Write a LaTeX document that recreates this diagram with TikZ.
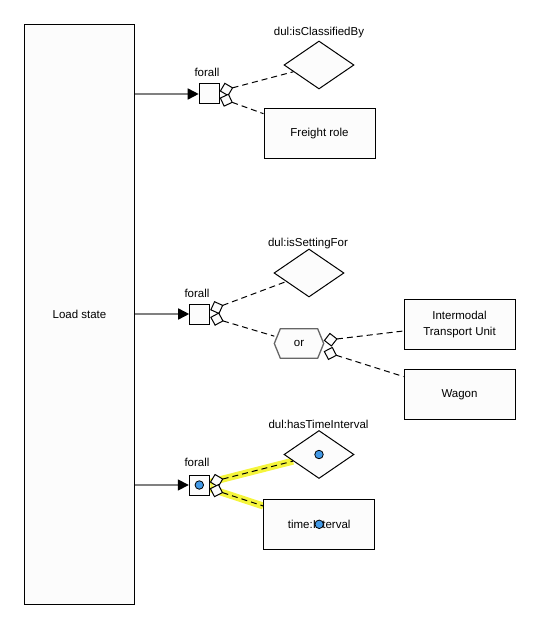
\documentclass[tikz,border=0pt]{standalone}
\usepackage{fontspec}
\setmainfont{Liberation Sans}
\usetikzlibrary{arrows.meta,shapes.geometric}
\pgfdeclarelayer{background}
\pgfsetlayers{background,main}
\definecolor{nodefill}{RGB}{252,252,252}
\definecolor{conngray}{RGB}{128,128,128}
\definecolor{hexgray}{RGB}{102,102,102}
\definecolor{hlyellow}{RGB}{245,245,60}
\definecolor{dotblue}{RGB}{66,153,230}
\begin{document}
\begin{tikzpicture}[x=1pt,y=-1pt,
  font=\fontsize{11.5}{16}\selectfont,
  classbox/.style={draw=black, line width=1pt, fill=nodefill, minimum width=111pt, minimum height=50pt, inner sep=2pt, align=center},
  relshape/.style={diamond, draw=black, line width=1pt, fill=nodefill, minimum width=70pt, minimum height=48pt, inner sep=0pt},
  quant/.style={draw=black, line width=1pt, fill=nodefill, minimum size=20pt, inner sep=0pt},
  feed/.style={conngray, line width=1.6pt, -{Triangle[length=11pt,width=11pt,color=black]}},
  rel/.style={line width=1pt, dash pattern=on 6pt off 4pt, {Diamond[length=14pt,width=14pt,fill=nodefill]}-},
  hl/.style={hlyellow, line width=7pt},
  dot/.style={circle, draw=black, line width=0.8pt, fill=dotblue, minimum size=8.5pt, inner sep=0pt},
  tag/.style={inner sep=0pt}]
\useasboundingbox (0,0) rectangle (538,628);

% main class
\node[draw=black, line width=1pt, fill=nodefill, minimum width=110pt, minimum height=579.5pt] (ls) at (79.5,314.25) {Load state};

% quantifier boxes
\node[quant] (f1) at (209.2,94) {};
\node[tag] (f1l) at (207,72) {forall};
\node[quant] (f2) at (199.7,314) {};
\node[tag] (f2l) at (197,293) {forall};
\node[quant] (f3) at (199.3,485) {};
\node[tag] (f3l) at (197,462) {forall};

% group 1
\node[relshape] (d1) at (319,65) {};
\node[tag] (d1l) at (319,33) {dul:isClassifiedBy};
\node[classbox] (fr) at (319.5,134) {Freight role};

% group 2
\node[relshape] (d2) at (309,273) {};
\node[tag] (d2l) at (308,243.5) {dul:isSettingFor};
\node[minimum width=49pt, minimum height=29pt, inner sep=0pt] (or) at (299,343.5) {or};
\begin{pgfonlayer}{background}
\draw[hexgray, line width=1.3pt, fill=nodefill] (or.west) -- ([xshift=6pt]or.north west) -- ([xshift=-6pt]or.north east) -- (or.east) -- ([xshift=-6pt]or.south east) -- ([xshift=6pt]or.south west) -- cycle;
\end{pgfonlayer}
\node[classbox] (itu) at (459.5,324.3) {Intermodal\\Transport Unit};
\node[classbox] (wg) at (459.5,394.3) {Wagon};

% group 3
\node[relshape] (d3) at (319,454.5) {};
\node[tag] (d3l) at (318.5,424) {dul:hasTimeInterval};
\node[classbox] (ti) at (319.2,524.3) {time:Interval};

% highlights
\begin{pgfonlayer}{background}
\draw[hl] (f3) -- (d3);
\draw[hl] (f3) -- (ti);
\end{pgfonlayer}

% feeds from Load state
\draw[feed] (ls.east |- f1) -- (f1);
\draw[feed] (ls.east |- f2) -- (f2);
\draw[feed] (ls.east |- f3) -- (f3);

% relations
\draw[rel] (f1) -- (d1);
\draw[rel] (f1) -- (fr);
\draw[rel] (f2) -- (d2);
\draw[rel] (f2) -- (or);
\draw[rel] (or) -- (itu);
\draw[rel] (or) -- (wg);
\draw[rel] (f3) -- (d3);
\draw[rel] (f3) -- (ti);

% markers
\node[dot] (dot1) at (f3.center) {};
\node[dot] (dot2) at (d3.center) {};
\node[dot] (dot3) at (ti.center) {};
\end{tikzpicture}
\end{document}
